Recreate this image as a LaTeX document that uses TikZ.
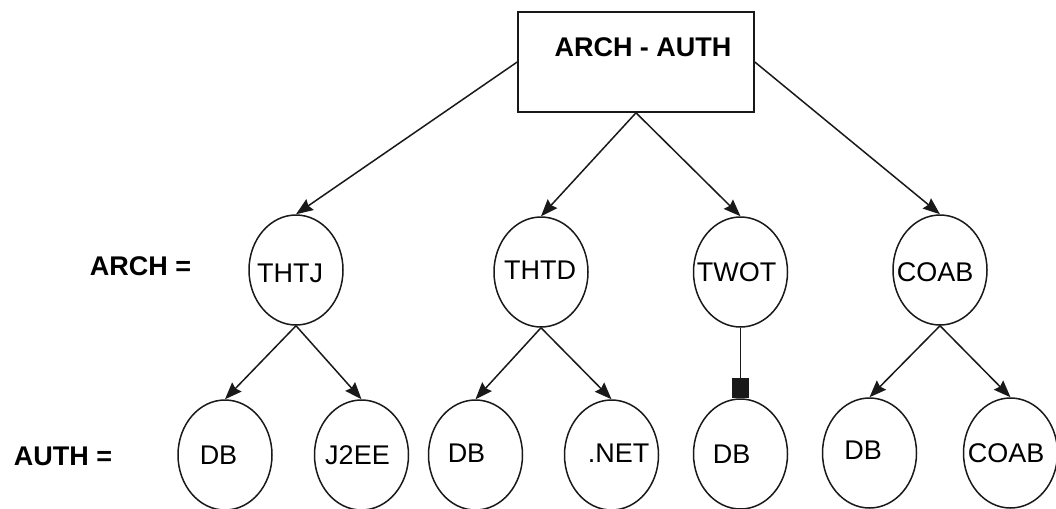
\documentclass[tikz,border=0pt]{standalone}
\usepackage{fontspec}
\setmainfont{Liberation Sans}
\usetikzlibrary{arrows.meta,shapes.geometric}
\begin{document}
\begin{tikzpicture}[x=1pt,y=-1pt,
  circ/.style={ellipse, draw=black!90, line width=1.5pt, minimum width=94pt, minimum height=110pt, inner sep=0pt},
  tx/.style={font=\fontsize{27}{32}\selectfont, inner sep=0pt},
  bold/.style={font=\bfseries\fontsize{27}{32}\selectfont, inner sep=0pt},
  boxstyle/.style={rectangle, draw=black!90, line width=1.6pt, minimum width=236pt, minimum height=100pt, inner sep=0pt},
  arr/.style={draw=black!90, line width=1.5pt, -{Stealth[length=17pt,width=13pt,inset=2pt]}},
  sqarr/.style={draw=black!90, line width=1.5pt, -{Square[length=20pt,width=17pt]}}
]
\useasboundingbox (0,0) rectangle (1056,508);

% top box
\node[boxstyle, label={[bold,xshift=7pt,yshift=15pt]center:ARCH - AUTH}] (root) at (636,62) {};

% side labels
\node[bold] (archlbl) at (140.5,266) {ARCH =};
\node[bold] (authlbl) at (63,456) {AUTH =};

% ARCH level
\node[circ, label={[tx,xshift=-6pt,yshift=-3pt]center:THTJ}] (thtj) at (296,270) {};
\node[circ, label={[tx,xshift=-1pt,yshift=2pt]center:THTD}] (thtd) at (541,272) {};
\node[circ, label={[tx,xshift=-4pt]center:TWOT}] (twot) at (740.5,272) {};
\node[circ, label={[tx,xshift=-5pt,yshift=-2pt]center:COAB}] (coab) at (940,270) {};

% AUTH level
\node[circ, label={[tx,xshift=-6.5pt]center:DB}] (db1) at (225,455) {};
\node[circ, label={[tx,xshift=-4pt]center:J2EE}] (j2ee) at (361.5,455) {};
\node[circ, label={[tx,xshift=-9pt,yshift=2pt]center:DB}] (db2) at (475.5,455) {};
\node[circ, label={[tx,xshift=7pt,yshift=2pt]center:.NET}] (net) at (611.5,455) {};
\node[circ, label={[tx,xshift=-9pt]center:DB}] (db3) at (740.5,454) {};
\node[circ, label={[tx,xshift=-6.5pt,yshift=3pt]center:DB}] (db4) at (869.5,453) {};
\node[circ, label={[tx,xshift=-4.5pt]center:COAB}] (coab2) at (1010.5,453) {};

% connectors
\draw[arr] (root.west) -- (thtj.north);
\draw[arr] (root.south) -- (thtd.north);
\draw[arr] (root.south) -- (twot.north);
\draw[arr] (root.east) -- (coab.north);

\draw[arr] (thtj.south) -- (db1.north);
\draw[arr] (thtj.south) -- (j2ee.north);
\draw[arr] (thtd.south) -- (db2.north);
\draw[arr] (thtd.south) -- (net.north);
\draw[sqarr] (twot.south) -- (db3.north);
\draw[arr] (coab.south) -- (db4.north);
\draw[arr] (coab.south) -- (coab2.north);
\end{tikzpicture}
\end{document}
